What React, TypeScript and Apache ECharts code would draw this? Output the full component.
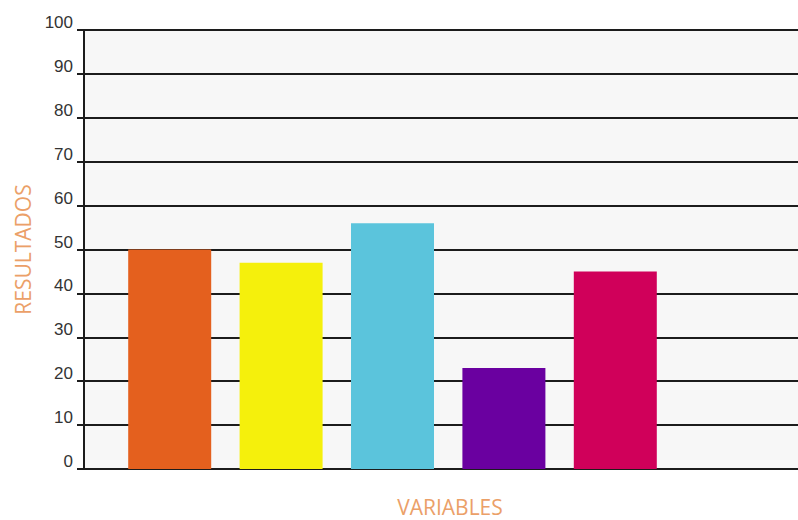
import React, { useEffect, useRef } from "react";
import * as echarts from "echarts";

const categories = ["A", "B", "C", "D", "E"];
const values = [50, 47, 56, 23, 45];
const barColors = ["#e4601e", "#f5f00c", "#5bc4dc", "#6a00a0", "#d0005a"];
const yTicks = { min: 0, max: 100, interval: 10 };
const yTitle = "RESULTADOS";
const xTitle = "VARIABLES";

export default function App() {
  const ref = useRef<HTMLDivElement>(null);
  useEffect(() => {
    document.body.style.margin = "0";
    const chart = echarts.init(ref.current!, null, { renderer: "svg" });
    const lineColor = "#1c1c1c";
    const titleColor = "#eba068";
    chart.setOption({
      animation: false,
      grid: [
        {
          left: 84,
          right: 0,
          top: 30,
          bottom: 51,
          show: true,
          backgroundColor: "#f7f7f7",
          borderWidth: 0,
          containLabel: false,
          outerBoundsMode: "none",
        },
        {
          left: 114,
          width: 557,
          top: 30,
          bottom: 51,
          containLabel: false,
          outerBoundsMode: "none",
        },
      ],
      xAxis: [
        {
          gridIndex: 0,
          type: "category",
          data: [""],
          axisLine: { show: true, lineStyle: { color: lineColor, width: 2 } },
          axisTick: { show: false },
          axisLabel: { show: false },
          name: xTitle,
          nameLocation: "middle",
          nameGap: 26,
          nameTextStyle: {
            color: titleColor,
            fontFamily: "Open Sans",
            fontSize: 21,
            lineHeight: 24,
            padding: [0, 0, 0, 18],
          },
        },
        {
          gridIndex: 1,
          type: "category",
          data: categories,
          axisLine: { show: false },
          axisTick: { show: false },
          axisLabel: { show: false },
        },
      ],
      yAxis: [
        {
          gridIndex: 0,
          type: "value",
          min: yTicks.min,
          max: yTicks.max,
          interval: yTicks.interval,
          axisLine: { show: true, lineStyle: { color: lineColor, width: 2 } },
          axisTick: { show: true, length: 7, lineStyle: { color: lineColor, width: 2 } },
          splitLine: { show: true, lineStyle: { color: lineColor, width: 2 } },
          axisLabel: {
            color: "#333333",
            fontFamily: "Liberation Sans",
            fontSize: 17,
            margin: 11,
            verticalAlign: "bottom",
            lineHeight: 15,
          },
          name: yTitle,
          nameLocation: "middle",
          nameGap: 49,
          nameTextStyle: {
            color: titleColor,
            fontFamily: "Open Sans",
            fontSize: 21,
          },
        },
        {
          gridIndex: 1,
          type: "value",
          min: yTicks.min,
          max: yTicks.max,
          interval: yTicks.interval,
          show: false,
          splitLine: { show: false },
        },
      ],
      series: [
        {
          type: "bar",
          xAxisIndex: 1,
          yAxisIndex: 1,
          barWidth: 83,
          data: values.map((v, i) => ({ value: v, itemStyle: { color: barColors[i] } })),
        },
      ],
    });
    return () => chart.dispose();
  }, []);
  return <div ref={ref} style={{ width: 798, height: 520 }} />;
}
